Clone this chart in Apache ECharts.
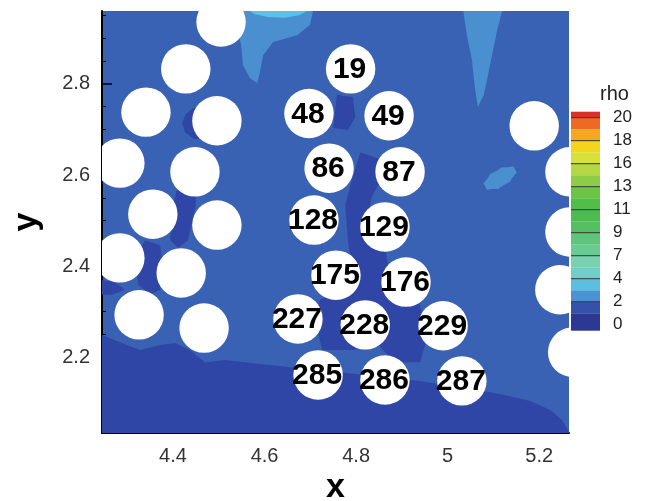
<!DOCTYPE html>
<html>
<head>
<meta charset="utf-8">
<script src="https://cdn.jsdelivr.net/npm/echarts@6/dist/echarts.min.js"></script>
<style>
html, body { margin: 0; padding: 0; background: #fff; }
#chart { width: 649px; height: 501px; }
</style>
</head>
<body>
<div id="chart"></div>
<script>
// axis ticks
var xTicks = [4.4, 4.6, 4.8, 5, 5.2];
var yTicks = [2.2, 2.4, 2.6, 2.8];
var yMinorTicks = [2.05, 2.1, 2.15, 2.25, 2.3, 2.35, 2.45, 2.5, 2.55, 2.65, 2.7, 2.75, 2.85, 2.9, 2.95];

// colour bar: labels sit on level index 0..9
var rhoLabels = ['0', '2', '4', '7', '9', '11', '13', '16', '18', '20'];
var rhoBandEdges = [-0.26, 0.5, 1, 1.5, 2, 2.5, 3, 3.5, 4, 4.5, 5, 5.5, 6, 6.5, 7, 7.5, 8, 8.5, 9, 9.26];
var rhoColors = ['#2c3893', '#3552aa', '#4a92d2', '#5cbfe2', '#72cfc6', '#78d2b0', '#6acb92', '#5fc57b',
    '#55c062', '#4dbc50', '#52bd48', '#6cc446', '#8dcc45', '#b3d843', '#d8e13a', '#f5d51c',
    '#f6a821', '#ee6a24', '#d9302a'];

// particles (x, y) without a number
var particles = [
    [4.505, 2.936], [4.428, 2.833], [4.341, 2.738], [4.496, 2.719], [4.284, 2.626], [4.448, 2.607],
    [4.356, 2.514], [4.496, 2.490], [4.284, 2.418], [4.418, 2.385], [4.326, 2.293], [4.468, 2.264],
    [5.189, 2.708], [5.267, 2.607], [5.267, 2.475], [5.245, 2.348], [5.273, 2.211]
];
// numbered particles
var ids  = [19, 48, 49, 86, 87, 128, 129, 175, 176, 227, 228, 229, 285, 286, 287];
var idX  = [4.788, 4.697, 4.872, 4.741, 4.896, 4.708, 4.863, 4.756, 4.909, 4.673, 4.820, 4.990, 4.717, 4.863, 5.031];
var idY  = [2.833, 2.735, 2.730, 2.615, 2.607, 2.501, 2.486, 2.380, 2.365, 2.284, 2.271, 2.269, 2.161, 2.150, 2.148];
var radius = 0.054;

// rho contour regions (x, y outlines)
var lowRegions = [
    // bottom band
    [[4.245, 2.249], [4.284, 2.233], [4.328, 2.216], [4.372, 2.227], [4.405, 2.231], [4.437, 2.216],
     [4.470, 2.189], [4.514, 2.194], [4.590, 2.185], [4.678, 2.176], [4.765, 2.167], [4.852, 2.157],
     [4.940, 2.148], [5.027, 2.134], [5.114, 2.119], [5.180, 2.104], [5.224, 2.084], [5.250, 2.062],
     [5.265, 2.036], [5.265, 2.03], [4.245, 2.03]],
    // between 19 and 48
    [[4.758, 2.776], [4.793, 2.771], [4.798, 2.727], [4.782, 2.699], [4.750, 2.703]],
    // central spine
    [[4.809, 2.650], [4.848, 2.637], [4.857, 2.593], [4.835, 2.554], [4.826, 2.512], [4.835, 2.462],
     [4.865, 2.431], [4.879, 2.348], [4.935, 2.330], [4.957, 2.249], [4.940, 2.189], [4.885, 2.189],
     [4.848, 2.227], [4.791, 2.216], [4.726, 2.216], [4.710, 2.282], [4.721, 2.326], [4.761, 2.343],
     [4.791, 2.396], [4.782, 2.457], [4.776, 2.534], [4.791, 2.589]],
    // left cluster gaps
    [[4.444, 2.747], [4.428, 2.734], [4.420, 2.714], [4.426, 2.694], [4.446, 2.679], [4.460, 2.679], [4.460, 2.747]],
    [[4.411, 2.578], [4.450, 2.578], [4.450, 2.534], [4.433, 2.457], [4.411, 2.440], [4.394, 2.457], [4.398, 2.523]],
    [[4.339, 2.457], [4.372, 2.446], [4.378, 2.402], [4.372, 2.348], [4.350, 2.337], [4.324, 2.359], [4.317, 2.413]],
    [[4.245, 2.369], [4.273, 2.365], [4.295, 2.348], [4.267, 2.337], [4.245, 2.337]]
];
var highRegions = [
    [[4.542, 2.96], [4.706, 2.96], [4.699, 2.929], [4.671, 2.907], [4.619, 2.892], [4.597, 2.863],
     [4.590, 2.826], [4.584, 2.802], [4.568, 2.813], [4.553, 2.841], [4.549, 2.885], [4.542, 2.918]],
    [[5.034, 2.96], [5.119, 2.96], [5.108, 2.918], [5.099, 2.874], [5.088, 2.819], [5.079, 2.776],
     [5.066, 2.749], [5.060, 2.787], [5.053, 2.852], [5.042, 2.907]]
];
var blobRegions = [
    [[5.147, 2.612], [5.143, 2.596], [5.123, 2.578], [5.098, 2.569], [5.082, 2.575], [5.086, 2.591],
     [5.106, 2.609], [5.131, 2.617]]
];
var peakRegions = [
    [[4.568, 2.96], [4.693, 2.96], [4.677, 2.951], [4.645, 2.945], [4.608, 2.947], [4.579, 2.953]]
];

var FONT = '"Liberation Sans", Arial, sans-serif';

function regionSeries(regions, color, smooth, z) {
    return {
        type: 'custom',
        xAxisIndex: 0,
        yAxisIndex: 0,
        clip: true,
        z: z,
        silent: true,
        data: regions.map(function (r, i) { return [i]; }),
        renderItem: function (params, api) {
            var pts = regions[params.dataIndex].map(function (p) { return api.coord(p); });
            return {
                type: 'polygon',
                shape: { points: pts, smooth: smooth },
                style: { fill: color }
            };
        }
    };
}

function circleSeries(xs, ys, z) {
    return {
        type: 'custom',
        xAxisIndex: 0,
        yAxisIndex: 0,
        clip: true,
        z: z,
        silent: true,
        data: xs.map(function (x, i) { return [x, ys[i]]; }),
        renderItem: function (params, api) {
            var c = api.coord([api.value(0), api.value(1)]);
            var r = api.size([radius, 0])[0];
            return { type: 'circle', shape: { cx: c[0], cy: c[1], r: r }, style: { fill: '#ffffff' } };
        }
    };
}

var myChart = echarts.init(document.getElementById('chart'), null, { renderer: 'canvas' });

myChart.setOption({
    animation: false,
    title: {
        text: 'rho',
        left: 595,
        top: 79,
        textStyle: { fontFamily: FONT, fontSize: 20, fontWeight: 'normal', color: '#222' }
    },
    grid: [
        { left: 102, top: 11, width: 467, height: 422, show: true, backgroundColor: '#3a62b4', borderWidth: 0, outerBoundsMode: 'none', containLabel: false },
        { left: 571, top: 111.7, width: 29, height: 219, outerBoundsMode: 'none', containLabel: false }
    ],
    xAxis: [
        {
            type: 'value', gridIndex: 0, min: 4.245, max: 5.265,
            name: 'x', nameLocation: 'middle', nameGap: 34,
            nameTextStyle: { fontFamily: FONT, fontSize: 34, fontWeight: 'bold', color: '#000' },
            axisLine: { show: true, onZero: false, lineStyle: { color: '#000', width: 2 } },
            axisTick: { show: true, inside: true, length: 8, customValues: xTicks, lineStyle: { color: '#000', width: 1.5 } },
            axisLabel: { customValues: xTicks, margin: 13, fontFamily: FONT, fontSize: 20, color: '#333' },
            splitLine: { show: false }
        },
        { type: 'value', gridIndex: 1, min: 0, max: 1, show: false }
    ],
    yAxis: [
        {
            type: 'value', gridIndex: 0, min: 2.0336, max: 2.96,
            name: 'y', nameLocation: 'middle', nameGap: 58, nameRotate: 90,
            nameTextStyle: { fontFamily: FONT, fontSize: 34, fontWeight: 'bold', color: '#000' },
            axisLine: { show: true, onZero: false, lineStyle: { color: '#000', width: 2 } },
            axisTick: { show: true, inside: true, length: 10, customValues: yTicks, lineStyle: { color: '#000', width: 1.5 } },
            axisLabel: { customValues: yTicks, margin: 12, padding: [12, 0, 0, 0], fontFamily: FONT, fontSize: 20, color: '#333' },
            splitLine: { show: false }
        },
        {
            type: 'value', gridIndex: 0, min: 2.0336, max: 2.96, position: 'left',
            axisLine: { show: false },
            axisTick: { show: true, inside: true, length: 4, customValues: yMinorTicks, lineStyle: { color: '#000', width: 1 } },
            axisLabel: { show: false },
            splitLine: { show: false }
        },
        {
            type: 'value', gridIndex: 1, min: -0.26, max: 9.26, position: 'right',
            axisLine: { show: false },
            axisTick: { show: false },
            splitLine: { show: false },
            axisLabel: {
                customValues: rhoLabels.map(function (l, i) { return i; }),
                formatter: function (v) { return rhoLabels[Math.round(v)]; },
                margin: 13, padding: [5, 0, 0, 0], fontFamily: FONT, fontSize: 17, color: '#222'
            }
        }
    ],
    series: [
        regionSeries(lowRegions, '#2f46a6', false, 1),
        regionSeries(highRegions, '#4a8fd0', false, 2),
        regionSeries(blobRegions, '#4a8fd0', true, 2),
        regionSeries(peakRegions, '#5cc0e8', false, 3),
        circleSeries(particles.map(function (p) { return p[0]; }), particles.map(function (p) { return p[1]; }), 4),
        circleSeries(idX, idY, 4),
        {
            type: 'custom',
            xAxisIndex: 0,
            yAxisIndex: 0,
            z: 5,
            silent: true,
            data: ids.map(function (id, i) { return [idX[i], idY[i], id]; }),
            renderItem: function (params, api) {
                var c = api.coord([api.value(0), api.value(1)]);
                return {
                    type: 'text',
                    x: c[0] - 1,
                    y: c[1] + 1,
                    style: {
                        text: String(api.value(2)),
                        fill: '#000',
                        font: 'bold 30px ' + FONT,
                        align: 'center',
                        verticalAlign: 'middle'
                    }
                };
            }
        },
        {
            type: 'custom',
            xAxisIndex: 1,
            yAxisIndex: 2,
            silent: true,
            data: rhoColors.map(function (c, i) { return [i]; }),
            renderItem: function (params, api) {
                var i = params.dataIndex;
                var p0 = api.coord([0, rhoBandEdges[i]]);
                var p1 = api.coord([1, rhoBandEdges[i + 1]]);
                return {
                    type: 'rect',
                    shape: { x: p0[0], y: p1[1], width: p1[0] - p0[0], height: p0[1] - p1[1] },
                    style: { fill: rhoColors[i] }
                };
            }
        },
        {
            type: 'custom',
            xAxisIndex: 1,
            yAxisIndex: 2,
            silent: true,
            z: 3,
            data: rhoLabels.slice(1).map(function (l, i) { return [i + 1]; }),
            renderItem: function (params, api) {
                var k = params.dataIndex + 1;
                var a = api.coord([0, k]);
                var b = api.coord([1, k]);
                return {
                    type: 'line',
                    shape: { x1: a[0], y1: a[1], x2: b[0], y2: b[1] },
                    style: { stroke: '#333', lineWidth: 1 }
                };
            }
        }
    ]
});
</script>
</body>
</html>
